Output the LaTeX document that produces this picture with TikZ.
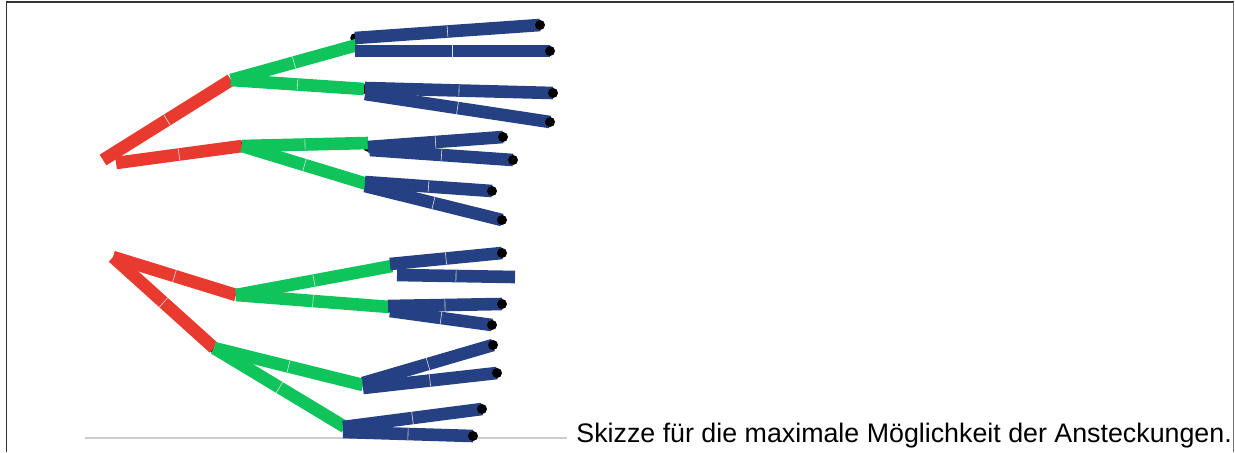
\documentclass[tikz,border=0pt]{standalone}
\usepackage{fontspec}
\setmainfont{Liberation Sans}
\usepackage{tikz}
\usetikzlibrary{calc,decorations.markings}

\definecolor{branchred}{RGB}{232,58,46}
\definecolor{branchgreen}{RGB}{16,196,92}
\definecolor{branchblue}{RGB}{38,64,132}

\tikzset{
    bar/.style={line width=6.3pt, line cap=butt,
        postaction={decorate, decoration={markings,
            mark=at position 0.5 with {\draw[white!75!gray, line width=0.3pt] (0,-3.1pt) -- (0,3.1pt);}}}},
    redbar/.style={bar, draw=branchred},
    greenbar/.style={bar, draw=branchgreen},
    bluebar/.style={bar, draw=branchblue},
    tipdot/.style={fill=black}
}

\begin{document}
\begin{tikzpicture}[x=0.5pt, y=-0.5pt]
    \useasboundingbox (0,0) rectangle (1235,452);

    % Frame
    \draw[line width=0.6pt, black!80] (6.5,452) -- (6.5,2) -- (1233.5,2);
    \draw[line width=0.6pt, black!55] (1233.5,2) -- (1233.5,452);
    \draw[line width=0.6pt, gray!40] (85,438) -- (567,438);

    % Upper tree: points
    \coordinate (ra1) at (103,160);
    \coordinate (ra2) at (116,163);
    \coordinate (A1) at (231,80);
    \coordinate (A2) at (242,146);
    \coordinate (B1) at (357,45);
    \coordinate (B2) at (364,89);
    \coordinate (B3) at (368,143);
    \coordinate (B4) at (367,184);
    \coordinate (b1a) at (355,38);  \coordinate (t1) at (540,25);
    \coordinate (b1b) at (355,51);  \coordinate (t2) at (550,51);
    \coordinate (b2a) at (365,88);  \coordinate (t3) at (553,93);
    \coordinate (b2b) at (365,94);  \coordinate (t4) at (550,122);
    \coordinate (b3a) at (368,147); \coordinate (t5) at (503,137);
    \coordinate (b3b) at (370,150); \coordinate (t6) at (513,160);
    \coordinate (b4a) at (365,182); \coordinate (t7) at (492,191);
    \coordinate (b4b) at (365,186); \coordinate (t8) at (502,220);

    % Lower tree: points
    \coordinate (rc) at (113,257);
    \coordinate (C1) at (236,295);
    \coordinate (C2) at (214,348);
    \coordinate (D1) at (392,266);
    \coordinate (D2) at (390,307);
    \coordinate (D3) at (363,385);
    \coordinate (D4) at (345,427);
    \coordinate (d1a) at (390,264); \coordinate (u1) at (502,253);
    \coordinate (d1b) at (397,275); \coordinate (u2) at (515,277);
    \coordinate (d2a) at (388,306); \coordinate (u3) at (502,304);
    \coordinate (d2b) at (390,311); \coordinate (u4) at (492,325);
    \coordinate (d3a) at (363,383); \coordinate (u5) at (493,345);
    \coordinate (d3b) at (363,388); \coordinate (u6) at (497,373);
    \coordinate (d4a) at (343,427); \coordinate (u7) at (482,409);
    \coordinate (d4b) at (343,432); \coordinate (u8) at (473,436);

    % Junction dots (under the bars)
    \foreach \p in {b1a,B2,b3a,A2,D4,C2} {
        \fill[tipdot] (\p) circle (2.4pt);
    }

    % Red branches
    \draw[redbar] (ra1) -- (A1);
    \draw[redbar] (ra2) -- (A2);
    \draw[redbar] (rc) -- (C1);
    \draw[redbar] (rc) -- (C2);

    % Green branches
    \draw[greenbar] (A1) -- (B1);
    \draw[greenbar] (A1) -- (B2);
    \draw[greenbar] (A2) -- (B3);
    \draw[greenbar] (A2) -- (B4);
    \draw[greenbar] (C1) -- (D1);
    \draw[greenbar] (C1) -- (D2);
    \draw[greenbar] (C2) -- (D3);
    \draw[greenbar] (C2) -- (D4);

    % Blue branches with tips
    \foreach \s/\t in {b1a/t1,b1b/t2,b2a/t3,b2b/t4,b3a/t5,b3b/t6,b4a/t7,b4b/t8,
                       d1a/u1,d2a/u3,d2b/u4,d3a/u5,d3b/u6,d4a/u7,d4b/u8} {
        \draw[bluebar] (\s) -- (\t);
        \fill[tipdot] (\t) circle (2.5pt);
    }
    \draw[bluebar] (d1b) -- (u2);

    % Caption
    \node[anchor=base west, inner sep=0pt, font=\fontsize{13.4pt}{16pt}\selectfont] (caption) at (576,442)
        {Skizze für die maximale Möglichkeit der Ansteckungen.};
\end{tikzpicture}
\end{document}
